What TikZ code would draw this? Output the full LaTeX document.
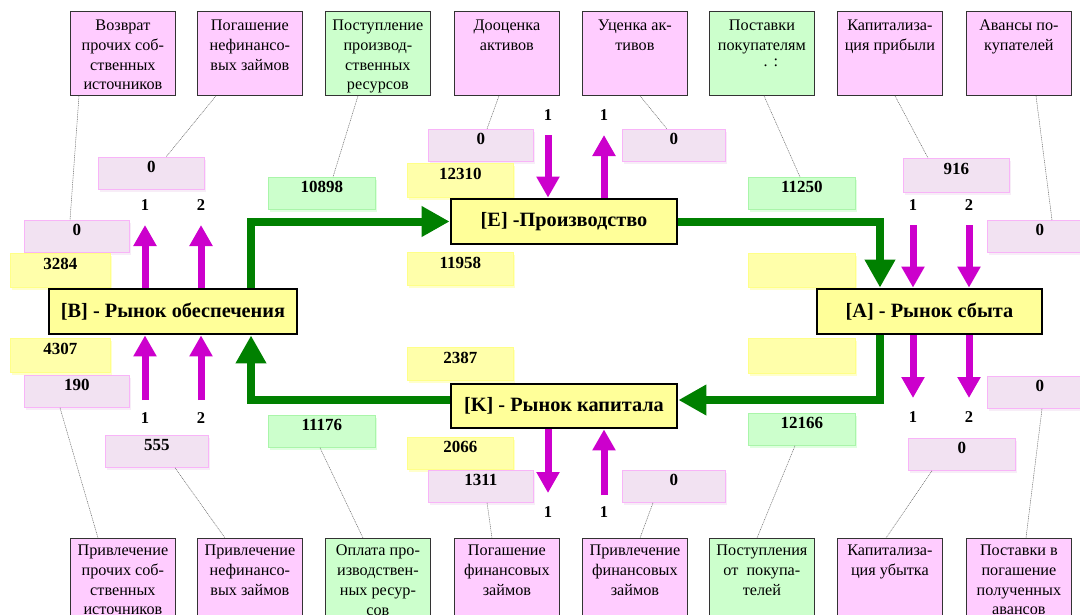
\documentclass[tikz,border=0pt]{standalone}
\usepackage{fontspec}
\setmainfont{Liberation Serif}
\usetikzlibrary{arrows.meta,calc,shadows}

\definecolor{pinkbox}{HTML}{FFCCFF}
\definecolor{greenbox}{HTML}{CCFFCC}
\definecolor{mainfill}{HTML}{FFFF99}
\definecolor{vpfill}{HTML}{F2E2F2}
\definecolor{vpline}{HTML}{F8B4F8}
\definecolor{vyfill}{HTML}{FFFFAA}
\definecolor{vyline}{HTML}{FFFF88}
\definecolor{vgfill}{HTML}{CCFFCC}
\definecolor{vgline}{HTML}{AAF5AA}
\definecolor{flowgreen}{HTML}{008000}
\definecolor{flowmag}{HTML}{CC00CC}

\newcommand{\mydesct}[1]{\parbox[t][84pt][t]{105pt}{\centering\hyphenpenalty=10000\vspace*{8.5pt}#1}}
\newcommand{\mydescb}[1]{\parbox[t][100pt][t]{105pt}{\centering\hyphenpenalty=10000\vspace*{6.5pt}#1}}

\tikzset{
  descbox/.style={draw=black!80, line width=0.8pt, inner sep=0pt, anchor=north west,
    font=\fontsize{16.2}{19.8}\selectfont},
  dpink/.style={descbox, fill=pinkbox},
  dgreen/.style={descbox, fill=greenbox},
  valbox/.style={inner sep=0pt, anchor=north west, line width=0.8pt,
    text height=15.5pt, text depth=16.5pt, font=\bfseries\fontsize{17}{19}\selectfont},
  vP/.style={valbox, fill=vpfill, draw=vpline,
    drop shadow={shadow xshift=2pt, shadow yshift=-3pt, fill=vpfill, opacity=0.6}},
  vY/.style={valbox, fill=vyfill, draw=vyline,
    drop shadow={shadow xshift=2pt, shadow yshift=-3pt, fill=vyfill, opacity=0.6}},
  vG/.style={valbox, fill=vgfill, draw=vgline,
    drop shadow={shadow xshift=2pt, shadow yshift=-3pt, fill=vgfill, opacity=0.6}},
  mainbox/.style={draw=black, line width=2.8pt, fill=mainfill, inner sep=0pt,
    font=\bfseries\fontsize{20.3}{23}\selectfont},
  numlab/.style={inner sep=0pt, font=\bfseries\fontsize{16.5}{18}\selectfont},
  leader/.style={draw=black!60, line width=0.5pt, dash pattern=on 1pt off 0.8pt},
  gflow/.style={draw=flowgreen, line width=8pt, line join=miter,
    -{Triangle[width=29pt,length=28pt]}},
  mflow/.style={draw=flowmag, line width=7pt,
    -{Triangle[width=22pt,length=21pt]}}
}

\begin{document}
\begin{tikzpicture}[x=1pt,y=-1pt]
\useasboundingbox (0,0) rectangle (1080,614);
\clip (0,0) rectangle (1080,614);
\fill[white] (0,0) rectangle (1080,614);

% top description boxes
\node[dpink]  (t1) at (70,11)  {\mydesct{Возврат\\прочих соб-\\ственных\\источников}};
\node[dpink]  (t2) at (197,11) {\mydesct{Погашение\\нефинансо-\\вых займов}};
\node[dgreen] (t3) at (325,11) {\mydesct{Поступление\\производ-\\ственных\\ресурсов}};
\node[dpink]  (t4) at (454,11) {\mydesct{Дооценка\\активов}};
\node[dpink]  (t5) at (582,11) {\mydesct{Уценка ак-\\тивов}};
\node[dgreen] (t6) at (709,11) {\mydesct{Поставки\\покупателям\\\hspace*{18pt}\raisebox{4pt}{.\hspace{6pt}:}}};
\node[dpink]  (t7) at (837,11) {\mydesct{Капитализа-\\ция прибыли}};
\node[dpink]  (t8) at (966,11) {\mydesct{Авансы по-\\купателей}};

% bottom description boxes
\node[dpink]  (b1) at (70,538)  {\mydescb{Привлечение\\прочих соб-\\ственных\\источников}};
\node[dpink]  (b2) at (197,538) {\mydescb{Привлечение\\нефинансо-\\вых займов}};
\node[dgreen] (b3) at (325,538) {\mydescb{Оплата про-\\изводствен-\\ных ресур-\\сов}};
\node[dpink]  (b4) at (454,538) {\mydescb{Погашение\\финансовых\\займов}};
\node[dpink]  (b5) at (582,538) {\mydescb{Привлечение\\финансовых\\займов}};
\node[dgreen] (b6) at (709,538) {\mydescb{Поступления\\от\ \ покупа-\\телей}};
\node[dpink]  (b7) at (837,538) {\mydescb{Капитализа-\\ция убытка}};
\node[dpink]  (b8) at (966,538) {\mydescb{Поставки в\\погашение\\полученных\\авансов}};

% value boxes
\node[vP, minimum width=106pt] (v1)  at (98,157)  {0};
\node[vP, minimum width=105pt] (v2)  at (24,220)  {0};
\node[vY, minimum width=100pt, minimum height=34pt] (v3)  at (10,253)  {3284};
\node[vY, minimum width=100pt, minimum height=34pt] (v4)  at (10,338)  {4307};
\node[vP, minimum width=105pt] (v5)  at (24,375)  {190};
\node[vP, minimum width=103pt] (v6)  at (105,435) {555};
\node[vG, minimum width=107pt] (v7)  at (268,177) {10898};
\node[vG, minimum width=107pt] (v8)  at (268,415) {11176};
\node[vP, minimum width=105pt] (v9)  at (428,129) {0};
\node[vP, minimum width=103pt] (v10) at (622,129) {0};
\node[vY, minimum width=106pt, minimum height=34pt] (v11) at (407,163) {12310};
\node[vY, minimum width=106pt, minimum height=33pt] (v12) at (407,252) {11958};
\node[vY, minimum width=106pt, minimum height=33pt] (v13) at (407,347) {2387};
\node[vY, minimum width=106pt] (v14) at (407,437) {2066};
\node[vP, minimum width=105pt] (v15) at (428,470) {1311};
\node[vP, minimum width=103pt] (v16) at (622,470) {0};
\node[vG, minimum width=107pt] (v17) at (748,177) {11250};
\node[vP, minimum width=106pt, minimum height=34pt] (v18) at (903,158) {916};
\node[vP, minimum width=105pt] (v19) at (987,220) {0};
\node[vY, minimum width=107pt, minimum height=34pt] (v20) at (748,253) {};
\node[vY, minimum width=107pt, minimum height=35pt] (v21) at (748,338) {};
\node[vP, minimum width=105pt] (v22) at (987,376) {0};
\node[vG, minimum width=107pt] (v23) at (748,413) {12166};
\node[vP, minimum width=107pt] (v24) at (908,438) {0};

% leader lines
\draw[leader] ($(t1.south west)+(9,0)$)  -- ($(v2.north west)+(46,0)$);
\draw[leader] ($(t2.south west)+(19,0)$) -- ($(v1.north west)+(68,0)$);
\draw[leader] ($(t3.south west)+(33,0)$) -- ($(v7.north west)+(65,0)$);
\draw[leader] ($(t4.south west)+(45,0)$) -- ($(v9.north west)+(59,0)$);
\draw[leader] ($(t5.south west)+(58,0)$) -- ($(v10.north west)+(45,0)$);
\draw[leader] ($(t6.south west)+(55,0)$) -- ($(v17.north west)+(52,0)$);
\draw[leader] ($(t7.south west)+(58,0)$) -- ($(v18.north west)+(25,0)$);
\draw[leader] ($(t8.south west)+(70,0)$) -- ($(v19.north west)+(65,0)$);
\draw[leader] ($(v5.south west)+(36,0)$)  -- ($(b1.north west)+(28,0)$);
\draw[leader] ($(v6.south west)+(70,0)$)  -- ($(b2.north west)+(28,0)$);
\draw[leader] ($(v8.south west)+(52,0)$)  -- ($(b3.north west)+(38,0)$);
\draw[leader] ($(v15.south west)+(59,0)$) -- ($(b4.north west)+(38,0)$);
\draw[leader] ($(v16.south west)+(31,0)$) -- ($(b5.north west)+(58,0)$);
\draw[leader] ($(v23.south west)+(47,0)$) -- ($(b6.north west)+(48,0)$);
\draw[leader] ($(v24.south west)+(24,0)$) -- ($(b7.north west)+(49,0)$);
\draw[leader] ($(v22.south west)+(55,0)$) -- ($(b8.north west)+(60,0)$);

% main boxes
\node[mainbox, minimum width=248pt, minimum height=45pt] (B) at (173,311.5) {[B] - Рынок обеспечения};
\node[mainbox, minimum width=226pt, minimum height=45pt] (E) at (564,221.5) {[E] -Производство};
\node[mainbox, minimum width=226pt, minimum height=44pt] (K) at (564,406) {[K] - Рынок капитала};
\node[mainbox, minimum width=225pt, minimum height=45pt] (A) at (929.5,311.5) {[A] - Рынок сбыта};

% green flows
\coordinate (gxa) at (251,0);
\coordinate (gxb) at (880,0);
\draw[gflow] (B.north -| gxa) |- (E.west);
\draw[gflow] (E.east) -| (A.north -| gxb);
\draw[gflow] (A.south -| gxb) |- ([yshift=6pt]K.east);
\draw[gflow] ([yshift=6pt]K.west) -| (B.south -| gxa);

% magenta flows
\coordinate (bt1) at (145,225); \coordinate (bt2) at (201,225);
\coordinate (bb1) at (145,400); \coordinate (bb2) at (201,400);
\coordinate (et1) at (548,135); \coordinate (et2) at (604,135);
\coordinate (kb1) at (548,493); \coordinate (kb2) at (604,495);
\coordinate (at1) at (913,225); \coordinate (at2) at (969,225);
\coordinate (ab1) at (913,398); \coordinate (ab2) at (969,398);
\draw[mflow] (B.north -| bt1) -- (bt1);
\draw[mflow] (B.north -| bt2) -- (bt2);
\draw[mflow] (bb1) -- (B.south -| bb1);
\draw[mflow] (bb2) -- (B.south -| bb2);
\draw[mflow] (et1) -- (E.north -| et1);
\draw[mflow] (E.north -| et2) -- (et2);
\draw[mflow] (K.south -| kb1) -- (kb1);
\draw[mflow] (kb2) -- (K.south -| kb2);
\draw[mflow] (at1) -- (A.north -| at1);
\draw[mflow] (at2) -- (A.north -| at2);
\draw[mflow] (A.south -| ab1) -- (ab1);
\draw[mflow] (A.south -| ab2) -- (ab2);

% number labels
\node[numlab] (nb1) at (145,205) {1};
\node[numlab] (nb2) at (201,205) {2};
\node[numlab] (nb3) at (145,418) {1};
\node[numlab] (nb4) at (201,418) {2};
\node[numlab] (ne1) at (548,115) {1};
\node[numlab] (ne2) at (604,115) {1};
\node[numlab] (nk1) at (548,512) {1};
\node[numlab] (nk2) at (604,512) {1};
\node[numlab] (na1) at (913,205) {1};
\node[numlab] (na2) at (969,205) {2};
\node[numlab] (na3) at (913,417) {1};
\node[numlab] (na4) at (969,417) {2};
\end{tikzpicture}
\end{document}
